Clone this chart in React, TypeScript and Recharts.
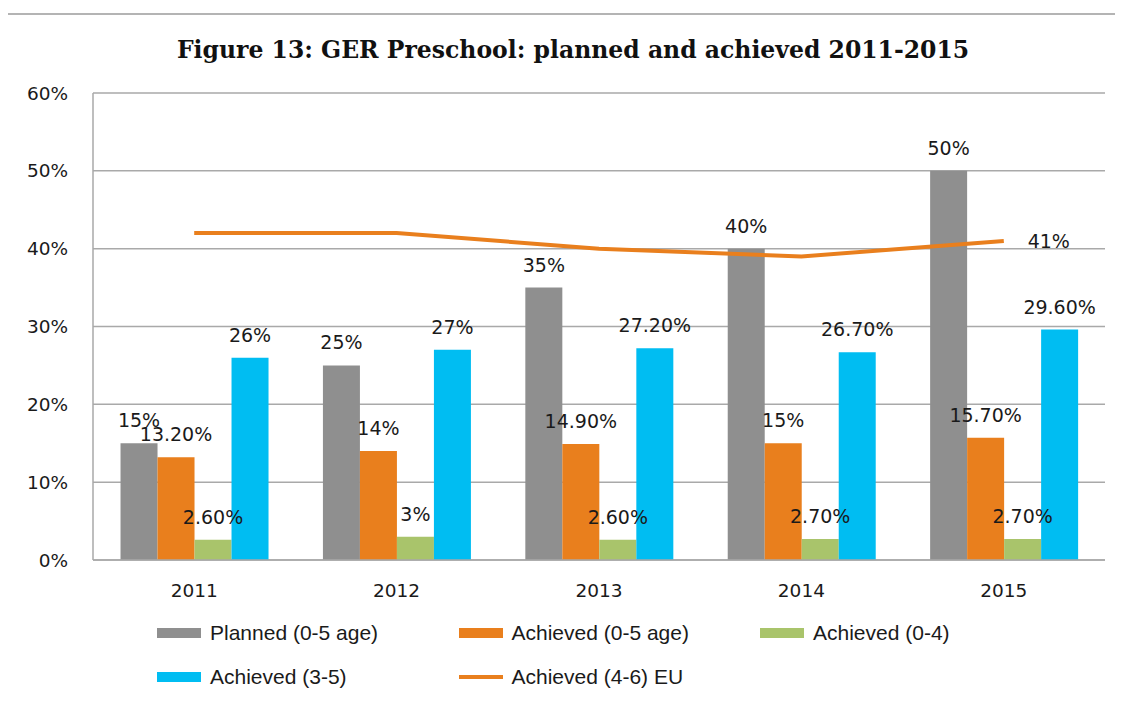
import React from "react";
import {
  BarChart,
  Bar,
  Line,
  XAxis,
  YAxis,
  CartesianGrid,
  LabelList,
} from "recharts";

// values (percent)
const years = ["2011", "2012", "2013", "2014", "2015"];
const planned = [15, 25, 35, 40, 50];
const achieved05 = [13.2, 14, 14.9, 15, 15.7];
const achieved04 = [2.6, 3, 2.6, 2.7, 2.7];
const achieved35 = [26, 27, 27.2, 26.7, 29.6];
const euAchieved = [42, 42, 40, 39, 41];
const yTicks = [0, 10, 20, 30, 40, 50, 60];

const data = years.map((year, i) => ({
  year,
  planned: planned[i],
  achieved05: achieved05[i],
  achieved04: achieved04[i],
  achieved35: achieved35[i],
  eu: euAchieved[i],
}));

const GRAY = "#8f8f8f";
const ORANGE = "#e97f1d";
const GREEN = "#a9c46b";
const CYAN = "#00bdf2";
const GRID = "#a9a9a9";
const labelFont = "'DejaVu Sans', Verdana, sans-serif";

const legendItems = [
  { name: "Planned (0-5 age)", color: GRAY, kind: "rect" },
  { name: "Achieved (0-5 age)", color: ORANGE, kind: "rect" },
  { name: "Achieved (0-4)", color: GREEN, kind: "rect" },
  { name: "Achieved (3-5)", color: CYAN, kind: "rect" },
  { name: "Achieved (4-6) EU", color: ORANGE, kind: "line" },
];

const fmt = (v: number) => (Number.isInteger(v) ? `${v}%` : `${v.toFixed(2)}%`);

const barLabel = {
  position: "top" as const,
  offset: 16,
  formatter: (v: any) => fmt(Number(v)),
  style: { fontFamily: labelFont, fontSize: 19, fill: "#1a1a1a" },
};

const renderEuLabel = (props: any) => {
  const { x, y, index, value } = props;
  if (index !== euAchieved.length - 1) return null;
  return (
    <text
      x={x + 45}
      y={y + 7}
      textAnchor="middle"
      fontFamily={labelFont}
      fontSize={19}
      fill="#1a1a1a"
    >
      {fmt(Number(value))}
    </text>
  );
};

const App = () => {
  return (
    <div style={{ position: "relative", width: 1115, height: 696 }}>
      <div
        style={{
          position: "absolute",
          left: -3,
          top: 5,
          width: 1130,
          height: 700,
          borderTop: "2px solid #b4b4b4",
          borderLeft: "2px solid #b4b4b4",
        }}
      />
      <div
        style={{
          position: "absolute",
          left: 0,
          top: 27,
          width: 1130,
          textAlign: "center",
          fontFamily: "'DejaVu Serif', Georgia, serif",
          fontWeight: "bold",
          fontSize: 23.5,
          lineHeight: "30px",
          color: "#111",
        }}
      >
        Figure 13: GER Preschool: planned and achieved 2011-2015
      </div>

      <BarChart
        width={1115}
        height={696}
        data={data}
        margin={{ top: 85, right: 18, left: 0, bottom: 104 }}
        barCategoryGap="13.6%"
        barGap={0}
        style={{ position: "absolute", left: 0, top: 0 }}
      >
        <CartesianGrid vertical={false} stroke={GRID} strokeWidth={1.5} />
        <XAxis
          dataKey="year"
          height={40}
          tickLine={false}
          axisLine={{ stroke: GRID, strokeWidth: 1.5 }}
          tickMargin={18}
          tick={{ fontFamily: labelFont, fontSize: 18.5, fill: "#1a1a1a" }}
        />
        <YAxis
          width={85}
          domain={[0, 60]}
          ticks={yTicks}
          tickFormatter={(v: number) => `${v}%`}
          tickLine={false}
          tickSize={0}
          tickMargin={25}
          axisLine={{ stroke: GRID, strokeWidth: 1.5 }}
          tick={{ fontFamily: labelFont, fontSize: 18.5, fill: "#1a1a1a" }}
        />
        <Bar dataKey="planned" fill={GRAY} isAnimationActive={false}>
          <LabelList dataKey="planned" {...barLabel} />
        </Bar>
        <Bar dataKey="achieved05" fill={ORANGE} isAnimationActive={false}>
          <LabelList dataKey="achieved05" {...barLabel} />
        </Bar>
        <Bar dataKey="achieved04" fill={GREEN} isAnimationActive={false}>
          <LabelList dataKey="achieved04" {...barLabel} />
        </Bar>
        <Bar dataKey="achieved35" fill={CYAN} isAnimationActive={false}>
          <LabelList dataKey="achieved35" {...barLabel} />
        </Bar>
        <Line
          type="linear"
          dataKey="eu"
          stroke={ORANGE}
          strokeWidth={4}
          dot={false}
          activeDot={false}
          isAnimationActive={false}
        >
          <LabelList dataKey="eu" content={renderEuLabel} />
        </Line>
      </BarChart>

      {legendItems.map((item, i) => {
        const col = i % 3;
        const row = Math.floor(i / 3);
        const left = 149 + col * 301.5;
        const cy = 625 + row * 44;
        return (
          <div
            key={item.name}
            style={{
              position: "absolute",
              left,
              top: cy - 14,
              height: 28,
              display: "flex",
              alignItems: "center",
              fontFamily: "'Liberation Sans', Arial, sans-serif",
              fontSize: 21,
              color: "#1a1a1a",
              whiteSpace: "nowrap",
            }}
          >
            <span
              style={{
                display: "inline-block",
                width: 44,
                height: item.kind === "line" ? 4 : 10,
                background: item.color,
                marginRight: 9,
              }}
            />
            {item.name}
          </div>
        );
      })}
    </div>
  );
};

export default App;
